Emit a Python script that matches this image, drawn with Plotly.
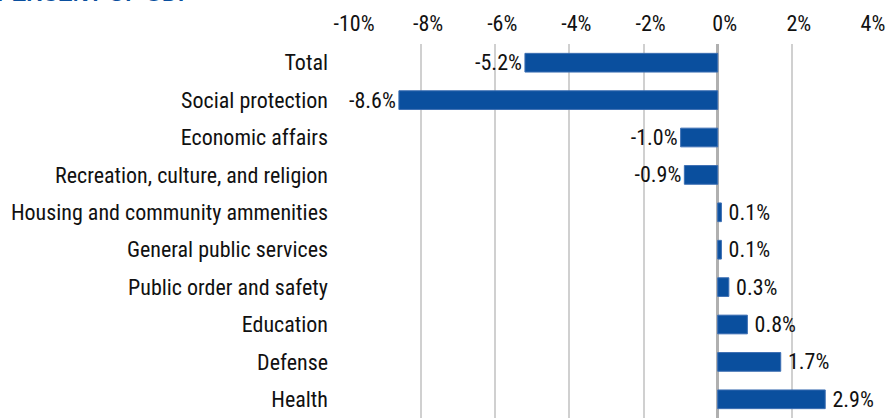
import plotly.graph_objects as go

categories = ["Total", "Social protection", "Economic affairs", "Recreation, culture, and religion",
              "Housing and community ammenities", "General public services", "Public order and safety",
              "Education", "Defense", "Health"]
values = [-5.2, -8.6, -1.0, -0.9, 0.1, 0.1, 0.3, 0.8, 1.7, 2.9]
labels = ["-5.2%", "-8.6%", "-1.0%", "-0.9%", "0.1%", "0.1%", "0.3%", "0.8%", "1.7%", "2.9%"]
tick_vals = [-10, -8, -6, -4, -2, 0, 2, 4]
tick_text = ["-10%", "-8%", "-6%", "-4%", "-2%", "0%", "2%", "4%"]

FONT = "Liberation Sans Narrow, Arial Narrow, Roboto Condensed, sans-serif"
FS = 22

templates = ["\u2009%{text}" if v > 0 else "%{text}" for v in values]

fig = go.Figure(go.Bar(
    y=categories, x=values, orientation="h",
    marker=dict(color="#0a4f9e", line=dict(color="#3d6fb3", width=1)),
    width=0.5,
    text=labels, texttemplate=templates, textposition="outside",
    cliponaxis=False, constraintext="none",
    textfont=dict(family=FONT, size=FS, color="#111111"),
    hoverinfo="skip",
))

fig.update_layout(
    width=887, height=418,
    margin=dict(l=347, r=21, t=44, b=0, autoexpand=False),
    plot_bgcolor="white", paper_bgcolor="white",
    showlegend=False,
    font=dict(family=FONT, size=FS, color="#111111"),
    xaxis=dict(range=[-10, 4], side="top", tickvals=tick_vals, ticktext=tick_text,
               automargin=False,
               showgrid=True, gridcolor="#d0d0d0", gridwidth=1.5,
               zeroline=True, zerolinecolor="#b0b0b0", zerolinewidth=3,
               showline=False, ticks="", ticklabelstandoff=8, ticklabelshift=7,
               tickfont=dict(family=FONT, size=FS, color="#111111")),
    yaxis=dict(autorange="reversed", ticks="", ticklabelstandoff=18, automargin=False,
               tickfont=dict(family=FONT, size=FS, color="#111111"), showgrid=False),
    annotations=[dict(text="<b>PERCENT OF GDP</b>", xref="paper", yref="paper",
                      x=-352/519, y=1 + 36/374, xanchor="left", yanchor="bottom",
                      showarrow=False,
                      font=dict(family="Liberation Sans, Arial, sans-serif", size=22, color="#0a4f9e"))],
)

fig.write_html("out.html",
               config={"displayModeBar": False},
               post_script="document.body.style.margin='0';document.body.style.padding='0';"
                           "document.documentElement.style.overflow='hidden';")
